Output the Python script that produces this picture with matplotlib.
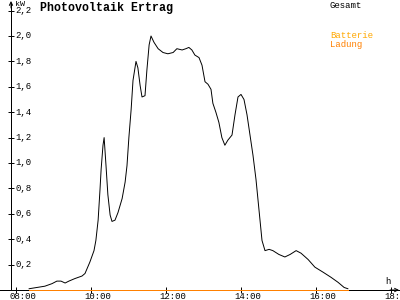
import matplotlib
matplotlib.use('Agg')
import matplotlib.pyplot as plt

plt.rcParams['font.family'] = ['Liberation Mono', 'DejaVu Sans Mono']

# Gesamt-Leistung (kW) ueber Uhrzeit (h)
zeit = [8.35, 8.56, 8.77, 8.96, 9.09, 9.2, 9.31, 9.41, 9.57, 9.76, 9.84, 9.97,
        10.08, 10.13, 10.19, 10.24, 10.27, 10.32, 10.35, 10.4, 10.45, 10.51, 10.56,
        10.64, 10.72, 10.83, 10.91, 10.96, 11.01, 11.07, 11.12, 11.2, 11.25, 11.31,
        11.36, 11.44, 11.49, 11.55, 11.6, 11.68, 11.79, 11.92, 12.05, 12.19, 12.29,
        12.43, 12.53, 12.61, 12.69, 12.77, 12.88, 12.96, 13.04, 13.12, 13.2, 13.25,
        13.33, 13.41, 13.49, 13.57, 13.65, 13.76, 13.84, 13.92, 14.0, 14.08, 14.16,
        14.24, 14.32, 14.4, 14.48, 14.56, 14.64, 14.75, 14.85, 15.01, 15.17, 15.31,
        15.47, 15.6, 15.79, 15.97, 16.19, 16.4, 16.59, 16.75, 16.85]
gesamt = [0.01, 0.02, 0.03, 0.05, 0.07, 0.07, 0.055, 0.07, 0.09, 0.11, 0.13, 0.22,
          0.31, 0.39, 0.55, 0.79, 0.95, 1.14, 1.2, 0.98, 0.75, 0.59, 0.54,
          0.55, 0.61, 0.72, 0.85, 0.98, 1.2, 1.42, 1.65, 1.8, 1.75, 1.61,
          1.52, 1.53, 1.73, 1.93, 2.0, 1.95, 1.9, 1.87, 1.86, 1.87, 1.9,
          1.89, 1.9, 1.91, 1.89, 1.85, 1.83, 1.77, 1.64, 1.62, 1.58, 1.47,
          1.4, 1.32, 1.2, 1.14, 1.18, 1.22, 1.38, 1.52, 1.54, 1.5, 1.38,
          1.22, 1.06, 0.87, 0.63, 0.39, 0.31, 0.32, 0.31, 0.28, 0.26, 0.28,
          0.31, 0.29, 0.24, 0.18, 0.14, 0.1, 0.06, 0.02, 0.01]
batterie = [0.0] * len(zeit)
ladung = [0.0] * len(zeit)

x_ticks = [8, 10, 12, 14, 16, 18]
y_ticks = [0.2, 0.4, 0.6, 0.8, 1.0, 1.2, 1.4, 1.6, 1.8, 2.0, 2.2]

# pixel -> data helpers (400x300 px canvas)
def hx(px):
    return 8 + (px - 16) / 37.5

def ky(py):
    return (290 - py) / 127

LW = 0.7
GOLD = '#ffa800'
ORANGE = '#ff8000'

fig = plt.figure(figsize=(4, 3), dpi=100)
ax = fig.add_axes([0, 0, 1, 1])
ax.set_xlim(hx(0), hx(400))
ax.set_ylim(ky(300), ky(0))

ax.plot(zeit, batterie, color=GOLD, lw=LW, antialiased=False)
ax.plot(zeit, ladung, color=ORANGE, lw=LW, antialiased=False, zorder=4)
ax.plot(zeit, gesamt, color='black', lw=LW, zorder=3)

for s in ['top', 'right']:
    ax.spines[s].set_visible(False)
ax.spines['left'].set_position(('data', hx(11)))
ax.spines['bottom'].set_position(('data', 0))
ax.spines['left'].set_bounds(0, ky(3))
for s in ['left', 'bottom']:
    ax.spines[s].set_linewidth(LW)
    ax.spines[s].set_antialiased(False)
    ax.spines[s].set_zorder(2)

ax.annotate('', xy=(hx(11), ky(1)), xytext=(hx(11), ky(8)),
            arrowprops=dict(arrowstyle='->', lw=LW, color='black',
                            shrinkA=0, shrinkB=0, mutation_scale=6))
ax.annotate('', xy=(hx(399), 0), xytext=(hx(390), 0),
            arrowprops=dict(arrowstyle='->', lw=LW, color='black',
                            shrinkA=0, shrinkB=0, mutation_scale=6))

ax.set_xticks(x_ticks)
ax.set_yticks(y_ticks)
ax.tick_params(axis='both', direction='inout', width=LW, labelleft=False,
               labelbottom=False)
ax.tick_params(axis='x', length=5)
ax.tick_params(axis='y', length=4)

for v in y_ticks:
    ax.text(hx(15), v, f'{v:.1f}'.replace('.', ','), fontsize=6.5,
            ha='left', va='center')
for h in x_ticks:
    ax.text(h + 7 / 37.5, ky(296.5), f'{h:02d}:00', fontsize=6.5,
            ha='center', va='center')

fig.text(15 / 400, 1 - 4 / 300, 'kW', fontsize=6, ha='left', va='center')
fig.text(385 / 400, 1 - 281.5 / 300, 'h', fontsize=6.5, ha='left', va='center')
fig.text(40 / 400, 1 - 8 / 300, 'Photovoltaik Ertrag', fontsize=8.4,
         fontweight='bold', ha='left', va='center')
fig.text(330 / 400, 1 - 5 / 300, 'Gesamt', fontsize=6.5, ha='left', va='center')
fig.text(330 / 400, 1 - 36 / 300, 'Batterie', fontsize=6.5, color=GOLD,
         ha='left', va='center')
fig.text(330 / 400, 1 - 44.5 / 300, 'Ladung', fontsize=6.5, color=ORANGE,
         ha='left', va='center')

fig.savefig('out.png', dpi=100)
